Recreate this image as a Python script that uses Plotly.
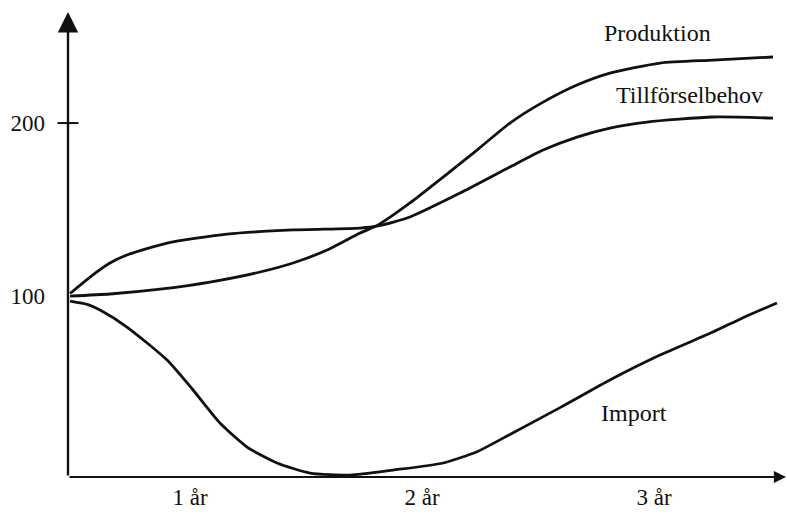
import plotly.graph_objects as go

# x in years, y in index units
x_range = [0.474, 3.569]
y_range = [-4.6, 264.2]

prod_x = [0.483, 0.655, 0.871, 1.086, 1.302, 1.444, 1.591, 1.733, 1.810, 1.948, 2.091, 2.237, 2.379, 2.522, 2.668, 2.810, 3.026, 3.254, 3.513]
prod_y = [100.0, 101.2, 104.0, 108.1, 113.9, 119.1, 126.6, 136.4, 141.0, 153.8, 168.8, 184.4, 200.0, 212.1, 222.0, 228.9, 234.7, 236.4, 238.2]

till_x = [0.483, 0.569, 0.655, 0.728, 0.901, 1.159, 1.444, 1.733, 1.810, 1.948, 2.164, 2.379, 2.522, 2.668, 2.810, 2.970, 3.254, 3.513]
till_y = [101.5, 111.0, 119.1, 123.7, 130.6, 135.8, 138.2, 139.3, 140.5, 145.7, 159.5, 174.6, 184.4, 191.9, 197.1, 200.6, 203.5, 202.9]

imp_x = [0.483, 0.560, 0.612, 0.728, 0.901, 1.013, 1.129, 1.246, 1.375, 1.517, 1.690, 1.875, 2.091, 2.237, 2.379, 2.595, 2.810, 3.026, 3.254, 3.384, 3.530]
imp_y = [97.0, 95.0, 91.9, 82.1, 63.0, 45.7, 26.6, 12.7, 3.5, -2.3, -3.5, -0.6, 3.5, 10.0, 20.0, 35.5, 51.5, 65.9, 79.2, 87.5, 96.0]

y_tickvals = [100, 200]
y_ticktext = ["100", "200"]
x_tickvals = [1, 2, 3]
x_ticktext = ["1 år", "2 år", "3 år"]
y_crossticks = [200]

labels = ["Produktion", "Tillförselbehov", "Import"]
label_x = [3.013, 3.155, 2.914]
label_y = [252.0, 216.2, 32.4]

FONT = "Liberation Serif"
INK = "#111111"

fig = go.Figure()
for xs, ys in [(prod_x, prod_y), (till_x, till_y), (imp_x, imp_y)]:
    fig.add_trace(go.Scatter(x=xs, y=ys, mode="lines",
                             line=dict(color=INK, width=2.8, shape="spline", smoothing=0.6),
                             showlegend=False, hoverinfo="skip"))

# cross tick on y axis
fig.add_trace(go.Scatter(x=[x_range[0]] * len(y_crossticks), y=y_crossticks, mode="markers",
                         marker=dict(symbol="line-ew", size=15, line=dict(color=INK, width=2)),
                         cliponaxis=False, showlegend=False, hoverinfo="skip"))

annotations = []
# axes with arrowheads
annotations.append(dict(x=x_range[1], y=y_range[0], ax=x_range[0], ay=y_range[0],
                        xref="x", yref="y", axref="x", ayref="y", text="",
                        showarrow=True, arrowhead=2, arrowsize=1.1, arrowwidth=2.2, arrowcolor=INK))
annotations.append(dict(x=x_range[0], y=y_range[1], ax=x_range[0], ay=y_range[0],
                        xref="x", yref="y", axref="x", ayref="y", text="",
                        showarrow=True, arrowhead=2, arrowsize=1.7, arrowwidth=2.4, arrowcolor=INK))
for t, lx, ly in zip(labels, label_x, label_y):
    annotations.append(dict(x=lx, y=ly, text=t, showarrow=False, xref="x", yref="y",
                            font=dict(family=FONT, size=24, color=INK)))

fig.update_layout(
    width=787, height=516,
    margin=dict(l=68, r=1, t=12, b=39),
    paper_bgcolor="white", plot_bgcolor="white",
    annotations=annotations,
    font=dict(family=FONT, size=23, color=INK),
    xaxis=dict(range=x_range, showgrid=False, zeroline=False, showline=False,
               tickvals=x_tickvals, ticktext=x_ticktext, ticks="",
               ticklabelstandoff=4, automargin=False, fixedrange=True),
    yaxis=dict(range=y_range, showgrid=False, zeroline=False, showline=False,
               tickvals=y_tickvals, ticktext=y_ticktext, ticks="",
               ticklabelstandoff=22, automargin=False, fixedrange=True),
)

fig.write_html("out.html", config={"displayModeBar": False},
               post_script="document.body.style.margin='0';document.body.style.overflow='hidden';")
